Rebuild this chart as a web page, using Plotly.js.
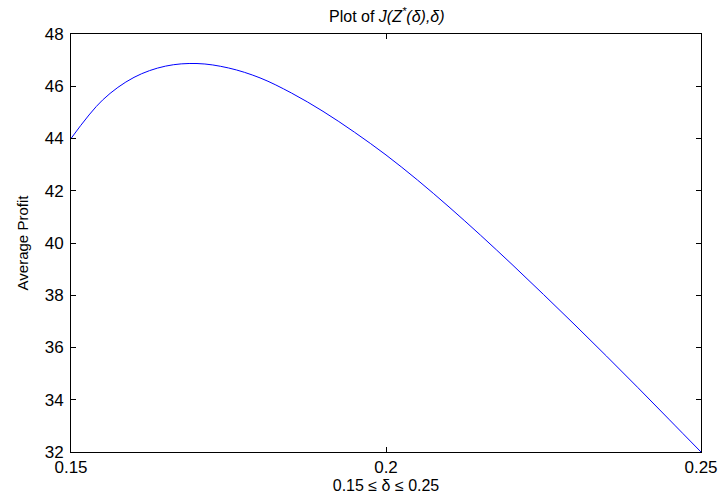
<!DOCTYPE html>
<html>
<head>
<meta charset="utf-8">
<script src="https://cdn.plot.ly/plotly-3.0.1.min.js"></script>
<style>html,body{margin:0;padding:0;background:#fff;}</style>
</head>
<body>
<div id="chart" style="width:723px;height:499px;"></div>
<script>
const delta = [0.150, 0.155, 0.160, 0.165, 0.170, 0.175, 0.180, 0.185, 0.190, 0.195, 0.200,
               0.205, 0.210, 0.215, 0.220, 0.225, 0.230, 0.235, 0.240, 0.245, 0.250];
const profit = [44.00, 45.47, 46.34, 46.77, 46.87, 46.70, 46.32, 45.74, 45.04, 44.24, 43.37,
                42.41, 41.38, 40.30, 39.18, 38.03, 36.86, 35.67, 34.46, 33.23, 32.00];
const xTicks = [0.15, 0.2, 0.25];
const xTickText = ['0.15', '0.2', '0.25'];
const yTicks = [32, 34, 36, 38, 40, 42, 44, 46, 48];

const font = {family: 'Liberation Sans, Arial, sans-serif', color: '#000'};

Plotly.newPlot('chart', [{
  x: delta, y: profit, type: 'scatter', mode: 'lines',
  line: {color: '#0000ff', width: 1, shape: 'spline', smoothing: 1}
}], {
  width: 723, height: 499,
  margin: {l: 71, r: 22, t: 34, b: 47},
  paper_bgcolor: '#fff', plot_bgcolor: '#fff',
  showlegend: false,
  font: Object.assign({size: 15}, font),
  title: {text: 'Plot of <i>J(Z<sup>*</sup>(δ),δ)</i>', x: 0.535, xanchor: 'center', y: 0.978, yanchor: 'top',
          font: Object.assign({size: 16}, font)},
  xaxis: {
    range: [0.15, 0.25], tickvals: xTicks, ticktext: xTickText,
    showgrid: false, zeroline: false, showline: true, linecolor: '#000', linewidth: 1,
    mirror: 'ticks', ticks: 'inside', ticklen: 5, tickcolor: '#000',
    tickfont: Object.assign({size: 17}, font),
    title: {text: '0.15 ≤ δ ≤ 0.25', font: Object.assign({size: 16}, font), standoff: 2}
  },
  yaxis: {
    range: [32, 48], tickvals: yTicks,
    showgrid: false, zeroline: false, showline: true, linecolor: '#000', linewidth: 1,
    mirror: 'ticks', ticks: 'inside', ticklen: 5, tickcolor: '#000',
    ticklabelstandoff: 3,
    tickfont: Object.assign({size: 17}, font),
    title: {text: 'Average Profit', font: Object.assign({size: 15}, font), standoff: 12}
  }
}, {displayModeBar: false, staticPlot: true});
</script>
</body>
</html>
